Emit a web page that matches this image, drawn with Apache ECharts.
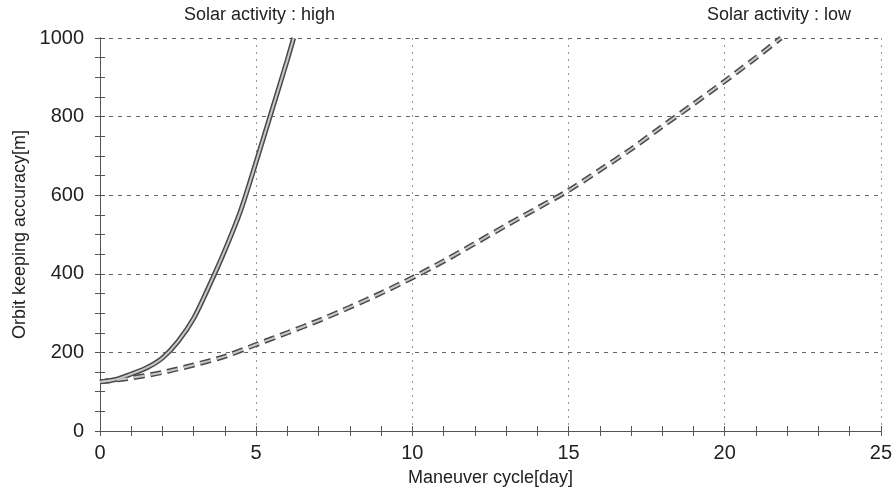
<!DOCTYPE html>
<html>
<head>
<meta charset="utf-8">
<script src="https://cdn.jsdelivr.net/npm/echarts@6/dist/echarts.min.js"></script>
<style>
  html, body { margin: 0; padding: 0; background: #fff; }
  #chart { width: 895px; height: 492px; }
</style>
</head>
<body>
<div id="chart"></div>
<script>
// solar activity: high (solid) - [maneuver cycle day, accuracy m]
var highData = [
  [0, 125], [0.5, 131], [1, 145], [1.5, 161], [2, 186], [2.5, 228],
  [3, 287], [3.5, 370], [4, 460], [4.5, 560], [5, 685], [5.5, 815],
  [6, 945], [6.2, 1000]
];
// solar activity: low (dashed)
var lowData = [
  [0, 125], [1, 135], [2, 149], [3, 168], [4, 190], [5, 220], [6, 250],
  [7, 281], [8, 315], [9, 351], [10, 390], [11, 432], [12, 477],
  [13, 523], [14, 567], [15, 612], [16, 664], [17, 717], [18, 775],
  [19, 832], [20, 890], [21, 950], [21.8, 1000]
];
var xTicks = [0, 5, 10, 15, 20, 25];
var yTicks = [0, 200, 400, 600, 800, 1000];

var fontText = '"Liberation Sans", Arial, sans-serif';

var chart = echarts.init(document.getElementById('chart'));

var outer = '#4a4a4a', inner = '#c8c8c8';
var frame = { color: '#555', width: 1 };

chart.setOption({
  animation: false,
  grid: { left: 100, right: 12, top: 38, bottom: 52 },
  xAxis: [{
    type: 'value', min: xTicks[0], max: xTicks[xTicks.length - 1], interval: 5,
    name: 'Maneuver cycle[day]', nameLocation: 'middle', nameGap: 38,
    nameTextStyle: { fontFamily: fontText, fontSize: 18, color: '#222' },
    axisLine: { lineStyle: frame },
    axisTick: { show: true, inside: true, length: 5, lineStyle: frame },
    minorTick: { show: true, splitNumber: 5, length: 5, lineStyle: frame },
    axisLabel: { fontFamily: fontText, fontSize: 20, color: '#222', margin: 12,
      formatter: function (v) { return String(v); } },
    splitLine: { show: true, lineStyle: { color: '#999', type: [2, 5], width: 1 } }
  }, {
    type: 'value', position: 'top', min: 0, max: 25, interval: 5,
    axisLine: { lineStyle: frame },
    axisTick: { show: true, inside: true, length: 5, lineStyle: frame },
    minorTick: { show: true, splitNumber: 5, length: 5, lineStyle: frame },
    axisLabel: { show: false }, splitLine: { show: false }
  }],
  yAxis: [{
    type: 'value', min: yTicks[0], max: yTicks[yTicks.length - 1], interval: 200,
    name: 'Orbit keeping accuracy[m]', nameLocation: 'middle', nameGap: 66, nameRotate: 90,
    nameTextStyle: { fontFamily: fontText, fontSize: 18, color: '#222' },
    axisLine: { show: true, lineStyle: frame },
    axisTick: { show: true, inside: true, length: 5, lineStyle: frame },
    minorTick: { show: true, splitNumber: 4, length: 5, lineStyle: frame },
    axisLabel: { fontFamily: fontText, fontSize: 20, color: '#222', margin: 16,
      formatter: function (v) { return String(v); } },
    splitLine: { show: true, lineStyle: { color: '#666', type: [4, 5], width: 1 } }
  }, {
    type: 'value', position: 'right', min: 0, max: 1000, interval: 200,
    axisLine: { show: true, lineStyle: frame },
    axisTick: { show: true, inside: true, length: 5, lineStyle: frame },
    minorTick: { show: true, splitNumber: 4, length: 5, lineStyle: frame },
    axisLabel: { show: false }, splitLine: { show: false }
  }],
  graphic: [
    { type: 'text', left: 184, top: 6, style: { text: 'Solar activity : high', font: '18px ' + fontText, fill: '#222' } },
    { type: 'text', left: 707, top: 6, style: { text: 'Solar activity : low', font: '18px ' + fontText, fill: '#222' } }
  ],
  series: [
    { type: 'line', data: highData, smooth: 0.3, symbol: 'none', z: 3,
      lineStyle: { color: outer, width: 5 } },
    { type: 'line', data: highData, smooth: 0.3, symbol: 'none', z: 4,
      lineStyle: { color: inner, width: 2 } },
    { type: 'line', data: lowData, smooth: 0.3, symbol: 'none', z: 3,
      lineStyle: { color: outer, width: 5, type: [11, 6] } },
    { type: 'line', data: lowData, smooth: 0.3, symbol: 'none', z: 4,
      lineStyle: { color: inner, width: 2, type: [11, 6] } }
  ]
});
</script>
</body>
</html>
